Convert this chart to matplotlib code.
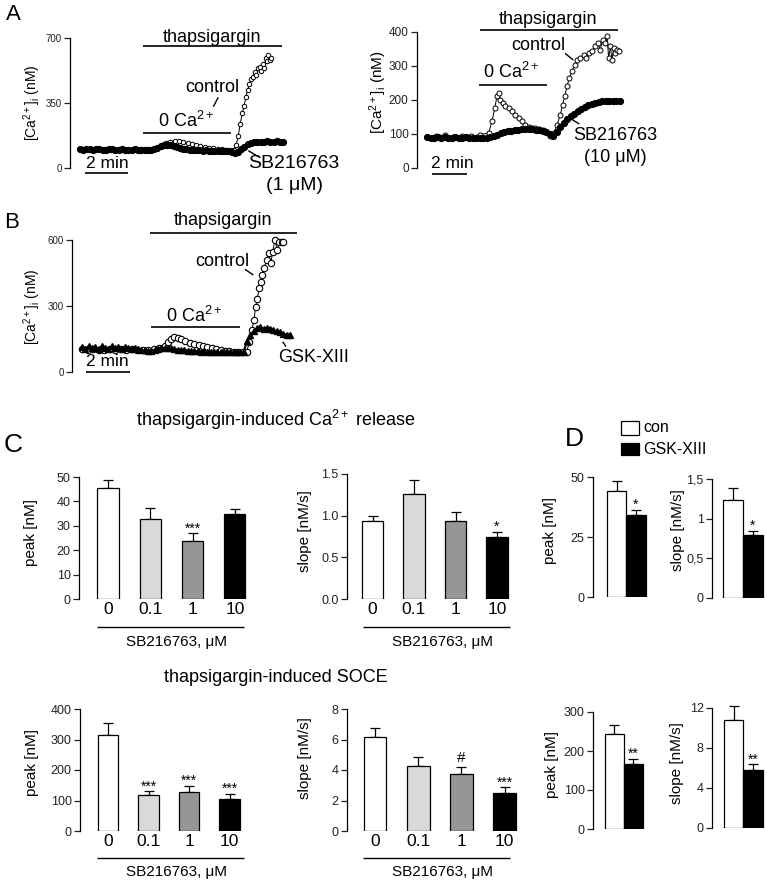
import numpy as np
import matplotlib
matplotlib.use('Agg')
import matplotlib.pyplot as plt
from matplotlib.lines import Line2D
from matplotlib.patches import Rectangle

plt.rcParams['font.family'] = ['Liberation Sans', 'DejaVu Sans']
plt.rcParams['mathtext.fontset'] = 'custom'
plt.rcParams['mathtext.rm'] = 'Liberation Sans'
plt.rcParams['mathtext.it'] = 'Liberation Sans:italic'
plt.rcParams['mathtext.bf'] = 'Liberation Sans:bold'

# ---------------- DATA ----------------
# Panel A (left): 1 uM SB216763, time in minutes, [Ca2+]i in nM
a1_ctrl_t = [0.0, 0.4, 0.75, 1.1, 1.45, 1.8, 2.15, 2.5, 2.85,
             3.0, 3.2, 3.4, 3.6, 3.8, 4.0, 4.2, 4.4, 4.6, 4.8, 5.0, 5.2, 5.4, 5.6, 5.8, 6.0,
             6.2, 6.4, 6.6, 6.8, 7.0, 7.15,
             7.26, 7.36, 7.45, 7.55, 7.63, 7.72, 7.8, 7.88, 7.96, 8.04, 8.12, 8.2, 8.27,
             8.35, 8.42, 8.5, 8.57, 8.63, 8.7, 8.76, 8.82, 8.88]
a1_ctrl_v = [102, 98, 104, 100, 97, 101, 99, 103, 100,
             100, 101, 104, 110, 120, 132, 142, 147, 145, 140, 134, 128, 123, 118, 114, 110,
             107, 104, 101, 99, 97, 96,
             125, 170, 237, 295, 334, 384, 420, 455, 479, 491, 518, 500, 541,
             545, 520, 562, 540, 590, 575, 610, 580, 590]
a1_sb_dt = 0.15
a1_sb_v = [101, 99, 100, 102, 98, 100, 101, 99, 97, 100, 102, 99, 98, 100, 99, 97, 99, 100, 98, 96,
           95, 96, 98, 103, 110, 117, 122, 124, 122, 118, 113, 108, 104, 101,
           99, 97, 96, 95, 94, 95, 93, 92, 93, 92, 91, 90, 90,
           86, 82, 88, 100, 115, 127, 135, 139, 141, 140, 142, 143, 141, 142, 144, 142, 141]

# Panel A (right): 10 uM SB216763
a2_ctrl_t = [0.0, 0.5, 1.0, 1.5, 2.0, 2.5, 3.0,
             3.52, 3.71, 3.87, 4.0, 4.1, 4.19, 4.32, 4.48, 4.67, 4.86, 5.05, 5.24, 5.43, 5.62,
             5.81, 6.0, 6.19, 6.4, 6.6, 6.76, 7.05, 7.24, 7.43, 7.62, 7.75, 7.87, 8.0, 8.13,
             8.29, 8.44, 8.57, 8.76, 8.95, 9.09, 9.24, 9.43, 9.62, 9.77, 9.9, 10.04, 10.19,
             10.29, 10.38, 10.48, 10.57, 10.67, 10.76, 10.88, 10.99]
a2_ctrl_v = [90, 93, 97, 92, 95, 93, 98,
             103, 137, 176, 211, 220, 201, 191, 181, 176, 167, 157, 147, 137, 127,
             121, 119, 118, 115, 113, 110, 95, 103, 127, 157, 186, 211, 240, 265,
             284, 304, 318, 323, 333, 323, 338, 343, 358, 367, 348, 377, 367,
             387, 323, 358, 318, 353, 338, 348, 343]
a2_sb_dt = 0.2
a2_sb_v = [90, 88, 89, 91, 88, 90, 89, 87, 90, 89, 88, 90, 89, 88, 89, 88,
           88, 89, 92, 95, 98, 102, 105, 108, 110, 112, 113, 114, 115, 115, 114, 113, 112, 110, 106, 100,
           95, 105, 120, 132, 143, 152, 160, 167, 173, 179, 184, 188, 192, 194, 196, 197, 196, 198, 197, 196]

# Panel B: GSK-XIII
b_ctrl_t = [0.0, 0.25, 0.5, 0.75, 1.0, 1.25, 1.5, 1.75, 2.0, 2.25, 2.5, 2.75, 3.0, 3.25, 3.5,
            3.75, 3.9, 4.05, 4.2, 4.35, 4.5, 4.7, 4.9, 5.1, 5.3, 5.5, 5.7, 5.9, 6.1, 6.3, 6.5,
            6.7, 6.9, 7.1, 7.3, 7.48,
            7.61, 7.71, 7.82, 7.89, 7.97, 8.05, 8.12, 8.2, 8.27, 8.39, 8.48, 8.58, 8.67, 8.77,
            8.88, 8.97, 9.08, 9.15]
b_ctrl_v = [104, 100, 106, 102, 99, 105, 101, 103, 98, 104, 100, 102, 99, 105, 110,
            118, 135, 150, 158, 155, 148, 140, 133, 127, 122, 117, 112, 108, 104, 100, 97,
            94, 92, 91, 90, 91,
            137, 190, 235, 296, 334, 380, 410, 440, 471, 509, 539, 494, 547, 600,
            554, 592, 592, 590]
b_gsk_dt = 0.15
b_gsk_v = [112, 105, 118, 108, 115, 103, 117, 110, 106, 116, 109, 113, 104, 112, 108, 106, 110, 103, 100, 98,
           95, 97, 100, 104, 108, 110, 109, 107, 104, 102, 100, 98, 97, 96,
           95, 94, 93, 94, 92, 93, 91, 92, 90, 91, 90, 89, 90,
           89, 90, 92, 140, 167, 185, 198, 205, 197, 200, 196, 192, 186, 180, 174, 170, 167]

# Panel C: SB216763 concentrations (uM)
sb_doses = ['0', '0.1', '1', '10']
c_rel_peak = [45.3, 32.9, 23.9, 34.8]
c_rel_peak_err = [3.3, 4.4, 3.1, 1.9]
c_rel_peak_sig = ['', '', '***', '']
c_rel_slope = [0.94, 1.26, 0.94, 0.75]
c_rel_slope_err = [0.055, 0.17, 0.10, 0.055]
c_rel_slope_sig = ['', '', '', '*']
c_soce_peak = [315, 118, 129, 106]
c_soce_peak_err = [39, 12, 20, 16]
c_soce_peak_sig = ['', '***', '***', '***']
c_soce_slope = [6.18, 4.29, 3.74, 2.46]
c_soce_slope_err = [0.59, 0.55, 0.48, 0.40]
c_soce_slope_sig = ['', '', '#', '***']

# Panel D: control vs GSK-XIII
d_groups = ['con', 'GSK-XIII']
d_rel_peak = [44.0, 34.2]
d_rel_peak_err = [4.3, 2.2]
d_rel_slope = [1.23, 0.79]
d_rel_slope_err = [0.16, 0.06]
d_soce_peak = [244, 167]
d_soce_peak_err = [22, 13]
d_soce_slope = [10.8, 5.83]
d_soce_slope_err = [1.4, 0.57]
d_rel_sig = ['', '*']
d_soce_sig = ['', '**']

# ---------------- LAYOUT HELPERS ----------------
W, H = 767, 883
fig = plt.figure(figsize=(W / 100, H / 100), dpi=100)


def fx(x):
    return x / W


def fy(y):
    return 1 - y / H


def px_axes(box):
    l, t, r, b = box
    ax = fig.add_axes([fx(l), fy(b), (r - l) / W, (b - t) / H])
    ax.patch.set_alpha(0)
    return ax


def calibrate(ax, box, xcal, ycal):
    l, t, r, b = box
    (p0, v0), (p1, v1) = xcal
    s = (v1 - v0) / (p1 - p0)
    ax.set_xlim(v0 + (l - p0) * s, v0 + (r - p0) * s)
    (q0, w0), (q1, w1) = ycal
    s = (w1 - w0) / (q1 - q0)
    ax.set_ylim(w0 + (b - q0) * s, w0 + (t - q0) * s)


def ftext(x, y, s, size, **kw):
    kw.setdefault('ha', 'center')
    kw.setdefault('va', 'center')
    fig.text(fx(x), fy(y), s, fontsize=size, **kw)


def fline(x0, y0, x1, y1, lw=1.2):
    fig.add_artist(Line2D([fx(x0), fx(x1)], [fy(y0), fy(y1)], color='k', lw=lw,
                          solid_capstyle='butt'))


def place_ylabel(ax, text, xy, size):
    ax.set_ylabel(text, fontsize=size)
    ax.yaxis.set_label_coords(fx(xy[0]), fy(xy[1]), transform=fig.transFigure)
    ax.yaxis.label.set_va('center')
    ax.yaxis.label.set_ha('center')


def trace_axes(box, x0, ppm, ycal, ymax, yticks, ylab_xy, tick_fs=7, lab_fs=10):
    ax = px_axes(box)
    calibrate(ax, box, ((x0, 0), (x0 + ppm, 1)), ycal)
    for s in ('top', 'right', 'bottom'):
        ax.spines[s].set_visible(False)
    ax.spines['left'].set_bounds(0, ymax)
    ax.spines['left'].set_linewidth(0.9)
    ax.set_xticks([])
    ax.set_yticks(yticks)
    ax.tick_params(axis='y', length=4, width=0.9, labelsize=tick_fs, pad=2, colors='#222222')
    place_ylabel(ax, r'[Ca$^{2+}$]$_\mathrm{i}$ (nM)', ylab_xy, lab_fs)
    return ax


def bar_axes(box, c0, c1, ycal, ymax, yticks, yticklabels, vals, errs, colors,
             width, ylabel, ylab_xy, marks, cats=None):
    ax = px_axes(box)
    calibrate(ax, box, ((c0, 0), (c1, 1)), ycal)
    for s in ('top', 'right', 'bottom'):
        ax.spines[s].set_visible(False)
    ax.spines['left'].set_bounds(0, ymax)
    ax.spines['left'].set_linewidth(0.9)
    x = np.arange(len(vals))
    ax.bar(x, vals, width, color=colors, edgecolor='k', linewidth=0.9, zorder=3)
    ax.errorbar(x, vals, yerr=[np.zeros(len(errs)), errs], fmt='none', ecolor='k',
                elinewidth=0.9, capsize=3.5, capthick=0.9, zorder=2)
    ax.set_yticks(yticks)
    ax.set_yticklabels(yticklabels)
    ax.tick_params(axis='y', length=4, width=0.9, labelsize=9, pad=2, colors='#222222')
    if cats is None:
        ax.set_xticks([])
    else:
        ax.set_xticks(x)
        ax.set_xticklabels(cats)
        ax.tick_params(axis='x', length=0, labelsize=12.5, pad=2)
    place_ylabel(ax, ylabel, ylab_xy, 11)
    for xi, v, e, m in zip(x, vals, errs, marks):
        if m:
            off = 3.0 if m == '#' else 0.5
            ax.annotate(m, (xi, v + e), xytext=(0, off), textcoords='offset points',
                        ha='center', va='baseline', fontsize=10 if m != '#' else 11)
    return ax


# ---------------- PANEL A ----------------
ftext(13, 15, 'A', 16)
ax = trace_axes((70, 25, 300, 180), 80, 21.5, ((168, 0), (38, 700)), 700, [0, 350, 700], (32, 103))
ax.plot(a1_ctrl_t, a1_ctrl_v, '-o', color='k', mfc='white', ms=3.2, mew=0.7, lw=0.7,
        zorder=2, clip_on=False)
t = np.arange(len(a1_sb_v)) * a1_sb_dt
ax.plot(t, a1_sb_v, '-o', color='k', ms=4.2, lw=2.5, zorder=3, clip_on=False)
ftext(212, 38, 'thapsigargin', 13)
fline(143, 45.7, 282, 45.7)
ftext(212.5, 88, 'control', 13)
fline(213.3, 106.7, 218.3, 97.3, lw=1)
ftext(186, 121, r'0 Ca$^{2+}$', 13)
fline(143, 133.3, 231, 133.3)
ftext(294, 163, 'SB216763', 14)
ftext(295, 186, '(1 μM)', 14)
fline(248.3, 150.7, 258.3, 156.7, lw=1)
ftext(107, 164, '2 min', 12.5)
fline(85, 173.3, 128, 173.3)

ax = trace_axes((417, 20, 640, 180), 427, 17.5, ((168, 0), (32, 400)), 400,
                [0, 100, 200, 300, 400], (378, 92), tick_fs=8.5, lab_fs=11)
ax.plot(a2_ctrl_t, a2_ctrl_v, '-o', color='k', mfc='white', ms=3.6, mew=0.7, lw=0.7,
        zorder=2, clip_on=False)
t = np.arange(len(a2_sb_v)) * a2_sb_dt
ax.plot(t, a2_sb_v, '-o', color='k', ms=4.2, lw=2.5, zorder=3, clip_on=False)
ftext(548, 19, 'thapsigargin', 13)
fline(480, 30, 618, 30)
ftext(538, 45, 'control', 13)
fline(565, 53.3, 573.3, 60, lw=1)
ftext(511, 72, r'0 Ca$^{2+}$', 13)
fline(479, 85.3, 547, 85.3)
ftext(615, 136, 'SB216763', 13)
ftext(615, 157, '(10 μM)', 13)
fline(570, 118.3, 579.3, 124, lw=1)
ftext(452, 164, '2 min', 12.5)
fline(432, 174, 467, 174)

# ---------------- PANEL B ----------------
ftext(12, 222, 'B', 16)
ax = trace_axes((72, 230, 300, 380), 82, 22, ((372, 0), (240, 600)), 600, [0, 300, 600], (32, 307))
ax.plot(b_ctrl_t, b_ctrl_v, '-o', color='k', mfc='white', ms=4.6, mew=0.8, lw=0.7,
        zorder=2, clip_on=False)
t = np.arange(len(b_gsk_v)) * b_gsk_dt
ax.plot(t, b_gsk_v, '-^', color='k', ms=5, lw=1.5, zorder=3, clip_on=False)
ftext(223, 221, 'thapsigargin', 13)
fline(150, 232.7, 297, 232.7)
ftext(222, 262, 'control', 13)
fline(245, 269.3, 253.3, 275, lw=1)
ftext(194, 316, r'0 Ca$^{2+}$', 13)
fline(151, 326.7, 240, 326.7)
ftext(314, 357, 'GSK-XIII', 13)
fline(282.7, 341.7, 286, 346.7, lw=1)
ftext(107, 362, '2 min', 12.5)
fline(86, 372, 130, 372)

# ---------------- PANEL C ----------------
bar_colors = ['white', '#d9d9d9', '#969696', 'black']
ftext(13, 445, 'C', 19)
ftext(276, 420, r'thapsigargin-induced Ca$^{2+}$ release', 13)
ftext(276, 677, 'thapsigargin-induced SOCE', 13)

bar_axes((79, 465, 256, 599), 108, 150.3, ((599, 0), (477, 50)), 50,
         [0, 10, 20, 30, 40, 50], ['0', '10', '20', '30', '40', '50'],
         c_rel_peak, c_rel_peak_err, bar_colors, 0.5, 'peak [nM]', (31, 532),
         c_rel_peak_sig, sb_doses)
bar_axes((347, 465, 520, 599), 372.5, 414, ((599, 0), (474, 1.5)), 1.5,
         [0, 0.5, 1.0, 1.5], ['0.0', '0.5', '1.0', '1.5'],
         c_rel_slope, c_rel_slope_err, bar_colors, 0.51, 'slope [nM/s]', (305, 531),
         c_rel_slope_sig, sb_doses)
bar_axes((80, 700, 255, 831), 108, 148.5, ((831, 0), (709, 400)), 400,
         [0, 100, 200, 300, 400], ['0', '100', '200', '300', '400'],
         c_soce_peak, c_soce_peak_err, bar_colors, 0.5, 'peak [nM]', (32, 763),
         c_soce_peak_sig, sb_doses)
bar_axes((347, 700, 525, 831), 375, 418.2, ((831, 0), (709, 8)), 8,
         [0, 2, 4, 6, 8], ['0', '2', '4', '6', '8'],
         c_soce_slope, c_soce_slope_err, bar_colors, 0.53, 'slope [nM/s]', (305, 758),
         c_soce_slope_sig, sb_doses)

for y_line, y_txt in ((627, 642), (858, 872)):
    fline(97, y_line, 244, y_line, lw=1)
    fline(363, y_line, 510, y_line, lw=1)
    ftext(176, y_txt, 'SB216763, μM', 11)
    ftext(443, y_txt, 'SB216763, μM', 11)

# ---------------- PANEL D ----------------
d_colors = ['white', 'black']
ftext(574, 439, 'D', 19)
bar_axes((593, 465, 660, 597), 616.5, 636, ((597, 0), (477, 50)), 50,
         [0, 25, 50], ['0', '25', '50'],
         d_rel_peak, d_rel_peak_err, d_colors, 1.0, 'peak [nM]', (550, 530), d_rel_sig)
bar_axes((712, 465, 767, 598), 733, 753, ((598, 0), (479, 1.5)), 1.5,
         [0, 0.5, 1.0, 1.5], ['0', '0,5', '1', '1,5'],
         d_rel_slope, d_rel_slope_err, d_colors, 1.0, 'slope [nM/s]', (678, 530), d_rel_sig)
bar_axes((593, 700, 660, 829), 614, 633, ((829, 0), (712, 300)), 300,
         [0, 100, 200, 300], ['0', '100', '200', '300'],
         d_soce_peak, d_soce_peak_err, d_colors, 1.0, 'peak [nM]', (552, 765), d_soce_sig)
bar_axes((712, 700, 767, 828), 733.5, 753, ((828, 0), (708, 12)), 12,
         [0, 4, 8, 12], ['0', '4', '8', '12'],
         d_soce_slope, d_soce_slope_err, d_colors, 1.0, 'slope [nM/s]', (677, 763), d_soce_sig)

# legend for D
fig.add_artist(Rectangle((fx(621), fy(435)), 18 / W, 14 / H, fc='white', ec='k', lw=0.9,
                         transform=fig.transFigure))
fig.add_artist(Rectangle((fx(621), fy(455)), 18 / W, 12 / H, fc='black', ec='k', lw=0.9,
                         transform=fig.transFigure))
ftext(643, 428, d_groups[0], 11.5, ha='left')
ftext(643, 449, d_groups[1], 11.5, ha='left')

fig.savefig('out.png', dpi=100)
